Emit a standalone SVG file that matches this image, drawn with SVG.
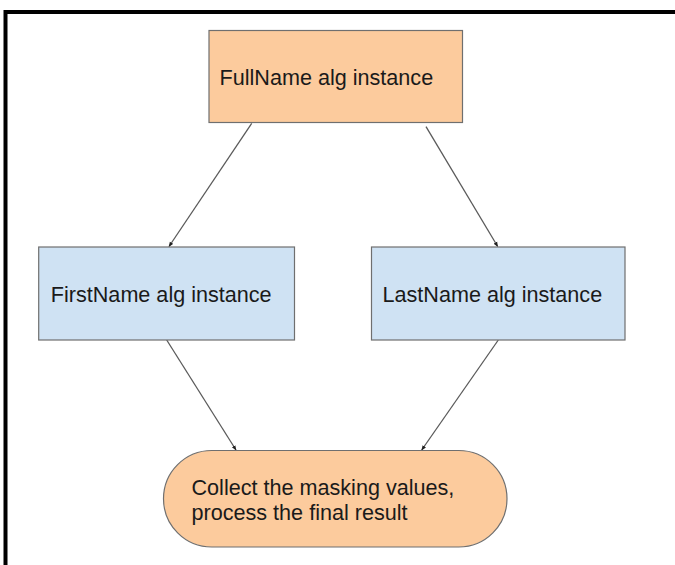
<svg xmlns="http://www.w3.org/2000/svg" width="675" height="565" viewBox="0 0 675 565">
<style>
.orange{fill:#fccb9d;stroke:#6f6f6f;stroke-width:1.2}
.blue{fill:#cfe2f3;stroke:#6f6f6f;stroke-width:1.2}
.lbl{font-family:"Liberation Sans",Arial,sans-serif;font-size:21.6px;fill:#1a1a1a}
.conn{stroke:#5a5a5a;stroke-width:1.3;fill:none;marker-end:url(#arr)}
</style>
<defs>
<marker id="arr" viewBox="0 0 10 10" refX="9" refY="5" markerWidth="5" markerHeight="5" orient="auto" markerUnits="userSpaceOnUse">
<path d="M0,1 L10,5 L0,9 Z" fill="#222"/>
</marker>
</defs>
<rect width="675" height="565" fill="#fff"/>
<path d="M5.5,565 V12 H675" fill="none" stroke="#000" stroke-width="4"/>
<g id="connectors">
<line class="conn" x1="251.7" y1="123.3" x2="169" y2="246.5"/>
<line class="conn" x1="426" y1="126.7" x2="497.7" y2="246.5"/>
<line class="conn" x1="166.7" y1="340" x2="236" y2="450"/>
<line class="conn" x1="498.3" y1="340" x2="421.7" y2="450"/>
</g>
<g id="fullname">
<rect class="orange" x="209" y="30.5" width="253.5" height="92"/>
<text class="lbl" x="219.5" y="85">FullName alg instance</text>
</g>
<g id="firstname">
<rect class="blue" x="38.7" y="247" width="255.8" height="93"/>
<text class="lbl" x="50.8" y="302">FirstName alg instance</text>
</g>
<g id="lastname">
<rect class="blue" x="371.5" y="247" width="253.5" height="93"/>
<text class="lbl" x="382.5" y="302">LastName alg instance</text>
</g>
<g id="collect">
<rect class="orange" x="163.5" y="450.5" width="343.5" height="96.5" rx="48.25" ry="48.25"/>
<text class="lbl" x="191.5" y="495">Collect the masking values,</text>
<text class="lbl" x="191.5" y="520">process the final result</text>
</g>
</svg>
